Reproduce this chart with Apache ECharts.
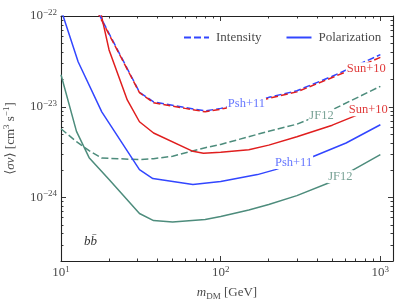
<!DOCTYPE html>
<html><head><meta charset="utf-8">
<script src="https://cdn.jsdelivr.net/npm/echarts@6/dist/echarts.min.js"></script>
<style>html,body{margin:0;padding:0;background:#fff}#c{width:407px;height:305px}</style>
</head><body><div id="c"></div>
<script>
// ---- data ----
const xTicks = [10, 100, 1000];
const yTicks = [1e-24, 1e-23, 1e-22];
const xRange = [10, 1200];
const yRange = [2e-25, 1e-22];

// Intensity (dashed)
const massIntensity = [15, 31, 38, 60, 80, 100, 150, 200, 300, 500, 1000];
const pshIntensity  = [1.7e-22, 1.45e-23, 1.13e-23, 9.8e-24, 9.0e-24, 9.6e-24, 1.11e-23, 1.27e-23, 1.5e-23, 2.17e-23, 3.75e-23];
const sunIntensity  = [1.65e-22, 1.43e-23, 1.11e-23, 9.6e-24, 8.8e-24, 9.4e-24, 1.09e-23, 1.24e-23, 1.46e-23, 2.1e-23, 3.5e-23];
const massJfIntensity = [10, 12.5, 15, 18, 31, 38, 50, 80, 100, 200, 300, 500, 1000];
const jfIntensity     = [5.73e-24, 4.12e-24, 3.28e-24, 2.72e-24, 2.62e-24, 2.68e-24, 2.85e-24, 3.54e-24, 3.85e-24, 5.38e-24, 6.43e-24, 9.27e-24, 1.68e-23];

// Polarization (solid)
const massPshPol = [10, 12.8, 18, 31, 37.6, 67, 100, 170, 220, 380, 610, 1000];
const pshPol     = [1.18e-22, 3.13e-23, 8.8e-24, 2.03e-24, 1.62e-24, 1.39e-24, 1.5e-24, 1.79e-24, 2.03e-24, 2.83e-24, 3.99e-24, 6.34e-24];
const massSunPol = [15, 20, 26, 31, 38, 67, 78, 100, 150, 200, 300, 500, 1000];
const sunPol     = [4.1e-22, 4.23e-23, 1.19e-23, 6.84e-24, 5.14e-24, 3.23e-24, 3.08e-24, 3.16e-24, 3.37e-24, 3.78e-24, 4.68e-24, 6.27e-24, 1.03e-23];
const massJfPol  = [10, 12.5, 15, 20, 31, 38, 50, 80, 100, 150, 200, 300, 500, 1000];
const jfPol      = [2.25e-23, 5.36e-24, 2.75e-24, 1.58e-24, 6.67e-25, 5.58e-25, 5.37e-25, 5.73e-25, 6.18e-25, 7.3e-25, 8.38e-25, 1.05e-24, 1.5e-24, 2.97e-24];

// ---- styling ----
const FONT = '"Liberation Serif", "DejaVu Serif", serif';
const RED = '#e01e1e', BLUE = '#3246ff', GREEN = '#4d8c7c';
const AX = '#222', TXT = '#4a4a4a';
const L = Math.log10;

function minorVals(lo, hi) {
  const out = [];
  for (let e = Math.floor(L(lo)); e <= Math.ceil(L(hi)); e++) {
    for (let k = 2; k <= 9; k++) {
      const v = k * Math.pow(10, e);
      if (v > lo * 1.0001 && v < hi * 0.9999) out.push(L(v));
    }
  }
  return out;
}
const expFmt = v => { const e = Math.round(v); return '{b|10}{s|' + (e < 0 ? '\u2212' + (-e) : e) + '}'; };
const richTick = {
  b: { fontFamily: FONT, fontSize: 13, color: TXT, lineHeight: 16 },
  s: { fontFamily: FONT, fontSize: 9, color: TXT, lineHeight: 10, verticalAlign: 'top' }
};

function mkAxis(dim, pos, major, withLabel) {
  const range = dim === 'x' ? xRange : yRange;
  const ticks = dim === 'x' ? xTicks : yTicks;
  return {
    type: 'value', position: pos, min: L(range[0]), max: L(range[1]),
    axisLine: { show: major, onZero: false, lineStyle: { color: AX, width: 1.1 } },
    axisTick: { show: true, inside: true, length: major ? 5 : 2.5,
      customValues: major ? ticks.map(L) : minorVals(range[0], range[1]),
      lineStyle: { color: AX, width: 0.9 } },
    axisLabel: withLabel ? { show: true, customValues: ticks.map(L), formatter: expFmt, rich: richTick, margin: 4 } : { show: false },
    splitLine: { show: false }
  };
}

const xAxes = [
  Object.assign(mkAxis('x', 'bottom', true, true), {
    name: '{i|m}{sub|DM} [GeV]', nameLocation: 'middle', nameGap: 17,
    nameTextStyle: { fontFamily: FONT, fontSize: 13, color: TXT, lineHeight: 17,
      rich: { i: { fontFamily: FONT, fontStyle: 'italic', fontSize: 13, color: TXT, lineHeight: 17 },
              sub: { fontFamily: FONT, fontSize: 9, color: TXT, lineHeight: 9, verticalAlign: 'bottom' } } }
  }),
  mkAxis('x', 'bottom', false, false),
  mkAxis('x', 'top', true, false),
  mkAxis('x', 'top', false, false)
];
const yAxes = [
  Object.assign(mkAxis('y', 'left', true, true), {
    name: '\u27E8{i|\u03C3v}\u27E9 [cm{sup|3} s{sup|\u22121}]', nameLocation: 'middle', nameGap: 32, nameRotate: 90,
    nameTextStyle: { fontFamily: FONT, fontSize: 13, color: TXT, lineHeight: 17,
      rich: { i: { fontFamily: FONT, fontStyle: 'italic', fontSize: 13, color: TXT, lineHeight: 17 },
              sup: { fontFamily: FONT, fontSize: 9, color: TXT, lineHeight: 9, verticalAlign: 'top' } } }
  }),
  mkAxis('y', 'left', false, false),
  mkAxis('y', 'right', true, false),
  mkAxis('y', 'right', false, false)
];

function pts(mass, vals) { return mass.map((m, i) => [L(m), L(vals[i])]); }
function tag(text, m, v, color) {
  return {
    symbol: 'circle', symbolSize: 1, silent: true, animation: false,
    itemStyle: { color: 'rgba(0,0,0,0)' },
    label: { show: true, position: 'inside', formatter: '{b}', color: color,
      fontFamily: FONT, fontSize: 12.5, backgroundColor: '#fff', padding: [0, 1] },
    data: [{ name: text, coord: [L(m), L(v)] }]
  };
}
function line(name, mass, vals, color, dashed, extra) {
  return Object.assign({
    name: name, type: 'line', xAxisIndex: 0, yAxisIndex: 0, symbol: 'none', silent: true,
    data: pts(mass, vals),
    lineStyle: { color: color, width: 1.5, type: dashed ? [7, 3] : 'solid' },
    itemStyle: { color: color }
  }, extra || {});
}

const series = [
  line('JF12 I', massJfIntensity, jfIntensity, GREEN, true, { markPoint: tag('JF12', 428, 8.07e-24, '#7aa397') }),
  line('JF12 P', massJfPol, jfPol, GREEN, false, { markPoint: tag('JF12', 562, 1.70e-24, '#7aa397') }),
  line('Psh P', massPshPol, pshPol, BLUE, false, { markPoint: tag('Psh+11', 286, 2.43e-24, '#6677ff') }),
  line('Sun P', massSunPol, sunPol, RED, false, { markPoint: tag('Sun+10', 841, 9.27e-24, '#e03a3a') }),
  line('Psh I', massIntensity, pshIntensity, BLUE, true, { markPoint: tag('Psh+11', 145, 1.08e-23, '#6677ff') }),
  Object.assign(line('Sun I', massIntensity, sunIntensity, RED, true, { markPoint: tag('Sun+10', 817, 2.62e-23, '#e03a3a') }),
    { lineStyle: { color: RED, width: 1.5, type: [7, 3], dashOffset: 4 } }),
  { name: 'Intensity', type: 'line', symbol: 'none', data: [], lineStyle: { color: BLUE, width: 1.5, type: [7, 3] }, itemStyle: { color: BLUE } },
  { name: 'Polarization', type: 'line', symbol: 'none', data: [], lineStyle: { color: BLUE, width: 1.5, type: 'solid' }, itemStyle: { color: BLUE } }
];

const chart = echarts.init(document.getElementById('c'), null, { renderer: 'canvas' });
chart.setOption({
  animation: false,
  backgroundColor: '#fff',
  grid: { left: 61, right: 14, top: 16, bottom: 44, containLabel: false, outerBoundsMode: 'none' },
  xAxis: xAxes,
  yAxis: yAxes,
  legend: {
    data: ['Intensity', 'Polarization'], left: 178, top: 26, itemWidth: 25, itemHeight: 10, itemGap: 24,
    itemStyle: { opacity: 0 },
    textStyle: { fontFamily: FONT, fontSize: 13, color: TXT, padding: [0, 0, 0, 2] }
  },
  graphic: [{ type: 'text', left: 84, top: 235, style: { text: 'bb\u0304', font: 'italic 13px "Liberation Serif"', fill: '#333' } }],
  series: series
});
</script></body></html>
